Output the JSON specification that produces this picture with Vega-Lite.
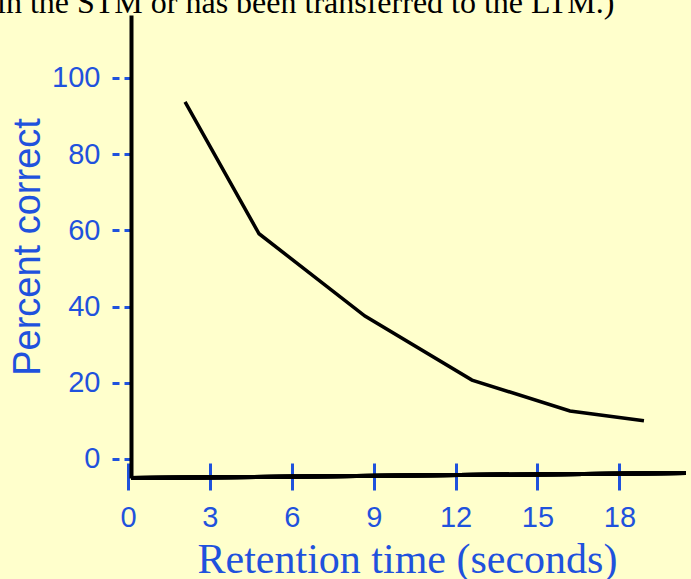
{
  "$schema": "https://vega.github.io/schema/vega-lite/v6.json",
  "autosize": "none",
  "width": 558,
  "height": 463,
  "padding": {"left": 128, "top": 15, "right": 5, "bottom": 101},
  "background": "#FFFFCC",
  "title": {
    "text": "in the STM or has been transferred to the LTM.)",
    "font": "Liberation Serif",
    "fontSize": 32,
    "fontWeight": "normal",
    "color": "#000000",
    "anchor": "start",
    "frame": "group",
    "baseline": "alphabetic",
    "offset": 0,
    "dx": -131,
    "dy": 30
  },
  "data": {
    "values": [
      {"time": 2.09, "pct": 93.7},
      {"time": 4.8, "pct": 59.1},
      {"time": 8.68, "pct": 37.5},
      {"time": 12.6, "pct": 20.7},
      {"time": 16.19, "pct": 12.6},
      {"time": 18.9, "pct": 10.0}
    ]
  },
  "layer": [
    {
      "mark": {"type": "line", "color": "#000000", "strokeWidth": 3.5},
      "encoding": {
        "x": {
          "field": "time",
          "type": "quantitative",
          "scale": {"domain": [0, 20.44], "nice": false, "zero": false},
          "axis": {
            "values": [0, 3, 6, 9, 12, 15, 18],
            "domain": false,
            "grid": false,
            "offset": -15,
            "tickColor": "#1F52DD",
            "tickWidth": 3,
            "tickSize": 27,
            "labelColor": "#1F52DD",
            "labelFont": "Liberation Sans",
            "labelFontSize": 29,
            "labelPadding": 13,
            "labelFlush": false,
            "labelOverlap": false,
            "title": "Retention time (seconds)",
            "titleFont": "Liberation Serif",
            "titleFontSize": 42,
            "titleFontWeight": "normal",
            "titleColor": "#1F52DD",
            "titlePadding": 7
          }
        },
        "y": {
          "field": "pct",
          "type": "quantitative",
          "scale": {"domain": [-5, 116.5], "nice": false, "zero": false},
          "axis": {
            "values": [0, 20, 40, 60, 80, 100],
            "offset": -3,
            "grid": false,
            "domainColor": "#000000",
            "domainWidth": 4,
            "tickColor": "#1F52DD",
            "tickWidth": 3,
            "tickSize": 21,
            "tickDash": [7, 5],
            "labelColor": "#1F52DD",
            "labelFont": "Liberation Sans",
            "labelFontSize": 29,
            "labelPadding": 10,
            "labelFlush": false,
            "labelOverlap": false,
            "title": "Percent correct",
            "titleFont": "Liberation Sans",
            "titleFontSize": 38,
            "titleFontWeight": "normal",
            "titleColor": "#1F52DD",
            "titlePadding": 4
          }
        }
      }
    },
    {
      "mark": {"type": "rule", "color": "#000000", "strokeWidth": 4},
      "encoding": {
        "x": {"datum": 0.11, "type": "quantitative"},
        "y": {"datum": -5, "type": "quantitative"},
        "x2": {"datum": 20.44},
        "y2": {"datum": -3.7}
      }
    }
  ],
  "config": {"view": {"stroke": null}}
}
